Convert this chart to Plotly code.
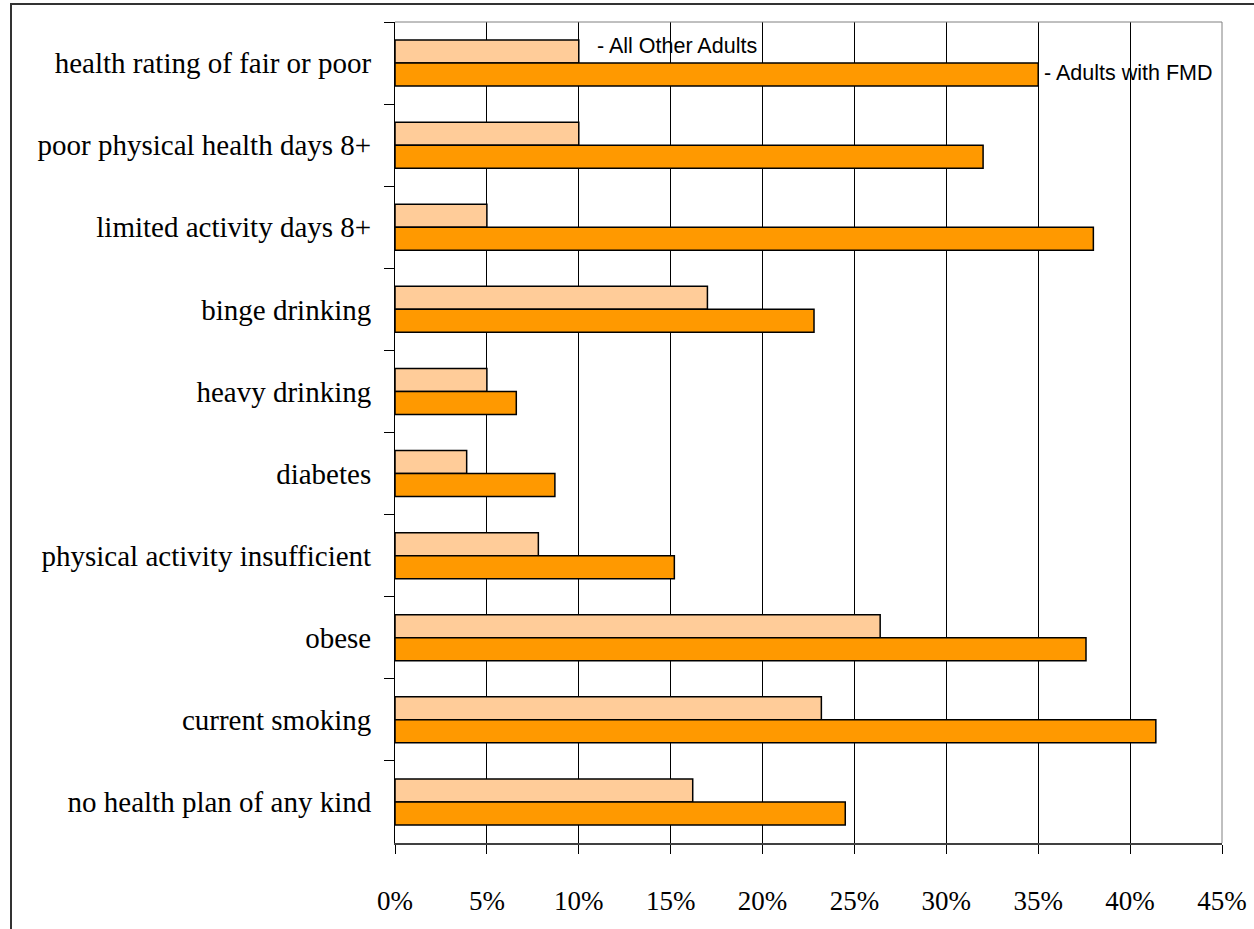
import plotly.graph_objects as go

categories = [
    "health rating of fair or poor",
    "poor physical health days 8+",
    "limited activity days 8+",
    "binge drinking",
    "heavy drinking",
    "diabetes",
    "physical activity insufficient",
    "obese",
    "current smoking",
    "no health plan of any kind",
]
other_adults = [0.10, 0.10, 0.05, 0.17, 0.05, 0.039, 0.078, 0.264, 0.232, 0.162]
fmd_adults = [0.35, 0.32, 0.38, 0.228, 0.066, 0.087, 0.152, 0.376, 0.414, 0.245]
series_names = ["All Other Adults", "Adults with FMD"]
x_ticks = [0, 0.05, 0.10, 0.15, 0.20, 0.25, 0.30, 0.35, 0.40, 0.45]
x_tick_labels = ["0%", "5%", "10%", "15%", "20%", "25%", "30%", "35%", "40%", "45%"]

SERIF = "Liberation Serif, Times New Roman, serif"
SANS = "Liberation Sans, Arial, sans-serif"

fig = go.Figure()
fig.add_trace(go.Bar(
    y=categories, x=other_adults, orientation="h", name=series_names[0],
    marker=dict(color="#FFCC99", line=dict(color="black", width=1.5)),
))
fig.add_trace(go.Bar(
    y=categories, x=fmd_adults, orientation="h", name=series_names[1],
    marker=dict(color="#FF9900", line=dict(color="black", width=1.5)),
))

fig.update_layout(
    width=1254, height=929,
    margin=dict(l=395, r=32, t=22, b=86, autoexpand=False),
    paper_bgcolor="white", plot_bgcolor="white",
    barmode="group", bargap=0.44, bargroupgap=0,
    showlegend=False,
    xaxis=dict(
        range=[0, 0.45], tickvals=x_ticks, ticktext=x_tick_labels,
        showgrid=True, gridcolor="black", gridwidth=1,
        showline=True, linecolor="#404040", linewidth=2,
        ticks="outside", ticklen=9, tickcolor="black",
        ticklabelstandoff=24,
        tickfont=dict(family=SERIF, size=27, color="black"),
        zeroline=False, fixedrange=True,
    ),
    yaxis=dict(
        categoryorder="array", categoryarray=categories, autorange="reversed",
        showgrid=False, showline=True, linecolor="black", linewidth=1,
        ticks="outside", ticklen=10, tickcolor="black", tickson="boundaries",
        ticklabelstandoff=17,
        tickfont=dict(family=SERIF, size=29, color="black"),
        zeroline=False, fixedrange=True,
    ),
    shapes=[
        dict(type="rect", xref="paper", yref="paper", x0=-384/827, x1=1.2, y0=-0.3, y1=1 + 18/821,
             line=dict(color="#333333", width=2), layer="below"),
        dict(type="line", xref="paper", yref="paper", x0=0, x1=1, y0=1, y1=1,
             line=dict(color="#808080", width=1)),
        dict(type="line", xref="paper", yref="paper", x0=1, x1=1, y0=0, y1=1,
             line=dict(color="#808080", width=1)),
    ],
    annotations=[
        dict(x=other_adults[0], y=categories[0], xref="x", yref="y",
             text="- " + series_names[0], showarrow=False, xanchor="left",
             xshift=16, yshift=17,
             font=dict(family=SANS, size=21.5, color="black")),
        dict(x=fmd_adults[0], y=categories[0], xref="x", yref="y",
             text="- " + series_names[1], showarrow=False, xanchor="left",
             xshift=4, yshift=-10,
             font=dict(family=SANS, size=21.5, color="black")),
    ],
)

fig.write_html("out.html")
